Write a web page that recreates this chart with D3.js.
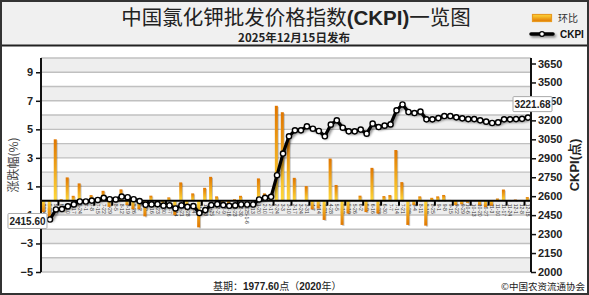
<!DOCTYPE html>
<html><head><meta charset="utf-8">
<script src="https://cdn.jsdelivr.net/npm/d3@7"></script>
<style>body{margin:0;background:#fff;}svg{display:block;}</style>
</head><body><svg id="c" width="589" height="295"></svg>
<script>
// ---- data ----
const dates = ["2024-5-13","5-20","5-27","6-3","6-10","6-17","6-24","7-1","7-8","7-15","7-22","7-29",
"8-5","8-12","8-19","8-26","9-2","9-9","9-16","9-23","9-30","10-7","10-14","10-21","10-28",
"11-4","11-11","11-18","11-25","12-2","12-9","12-16","12-23","12-30",
"2025-1-6","1-13","1-20","2-10","2-17","2-24","3-3","3-10","3-17","3-24","3-31","4-7","4-14","4-21","4-28",
"5-5","5-12","5-19","5-26","6-2","6-9","6-16","6-23","6-30","7-7","7-14","7-21","7-28",
"8-4","8-11","8-18","8-25","9-1","9-8","9-15","9-22","9-29","10-6","10-13","10-20","10-27",
"11-3","11-10","11-17","11-24","12-1","12-8","12-15"];
const changePct = [-0.8,-1.2,4.3,0.1,1.63,0.34,1.21,0.05,0.39,0.2,0.69,-0.43,-0.1,0.79,-0.3,-0.6,-0.6,-1.1,0.35,-0.1,
-0.3,0.23,-1.0,1.28,-0.66,0.51,-1.87,0.9,1.67,0.3,-0.2,-0.2,0.1,0.34,0.0,0.0,1.56,0.51,0.3,6.65,
6.2,4.6,1.6,0.0,1.02,-0.6,-0.55,-1.35,2.95,1.1,-1.7,-0.9,0.02,0.35,-0.8,2.3,-0.9,0.32,0.39,3.55,
1.3,-1.7,-0.3,0.3,-1.75,0.2,0.3,0.4,0.05,-0.3,-0.25,-0.15,0.02,-0.3,-0.45,-0.35,0.15,0.78,0.05,0.08,
0.05,0.25];
const ckpi = [null,2415.6,2495,2498,2520,2535,2558,2558,2565,2570,2587,2576,2574,2597,2592,2576,2561,2532,2535,2537,
2525,2527,2503,2527,2516,2521,2467,2490,2530,2537,2530,2524,2527,2534,2534,2534,2574,2587,2595,2766,
2937,3074,3121,3121,3153,3134,3116,3074,3166,3200,3142,3113,3113,3127,3095,3174,3147,3158,3168,3279,
3326,3266,3258,3269,3208,3208,3218,3234,3234,3224,3216,3210,3210,3200,3190,3179,3184,3208,3208,3210,
3212,3221.68];
const leftTicks = [9,7,5,3,1,-1,-3,-5];
const rightTicks = [3650,3500,3350,3200,3050,2900,2750,2600,2450,2300,2150,2000];

// ---- setup ----
const svg = d3.select("#c");
const NUM = "'Liberation Sans', Arial, sans-serif";
const CJK = "'Noto Sans CJK SC', 'Liberation Sans', sans-serif";
const defs = svg.append("defs");
function grad(id, c0, c1){
  const g = defs.append("linearGradient").attr("id",id).attr("x1",0).attr("y1",0).attr("x2",0).attr("y2",1);
  g.append("stop").attr("offset","0%").attr("stop-color",c0);
  g.append("stop").attr("offset","100%").attr("stop-color",c1);
}
grad("gPos","#e07600","#ffd93a");
grad("gNeg","#ffd93a","#e07600");
defs.append("filter").attr("id","sh").attr("filterUnits","userSpaceOnUse")
  .attr("x",0).attr("y",0).attr("width",589).attr("height",295)
  .append("feDropShadow").attr("dx",1.5).attr("dy",1.8).attr("stdDeviation",0.9)
  .attr("flood-color","#000").attr("flood-opacity",0.45);

const x = d3.scalePoint().domain(dates).range([44, 528]);
const yL = d3.scaleLinear().domain([-5, 10]).range([272, 58]);
const yR = d3.scaleLinear().domain([2000, 3650]).range([272, 63.5]);
const X0 = 41, X1 = 531;

// header
svg.append("rect").attr("x",0).attr("y",0).attr("width",589).attr("height",45).attr("fill","#f0f0f0");
svg.append("line").attr("x1",0).attr("x2",589).attr("y1",45.5).attr("y2",45.5).attr("stroke","#222").attr("stroke-width",2);
const t = svg.append("text").attr("x",296).attr("y",25).attr("text-anchor","middle")
  .attr("font-size",20.5).attr("fill","#222").attr("font-family",CJK);
t.append("tspan").text("中国氯化钾批发价格指数");
t.append("tspan").attr("font-weight","bold").attr("font-family",NUM).text("(CKPI)");
t.append("tspan").text("一览图");
svg.append("text").attr("x",294).attr("y",41.5).attr("text-anchor","middle").attr("font-size",11.5)
  .attr("font-weight","bold").attr("fill","#222").attr("font-family",CJK).text("2025年12月15日发布");

// legend
svg.append("rect").attr("x",532.5).attr("y",14.5).attr("width",19).attr("height",7)
  .attr("fill","url(#gNeg)").attr("stroke","#e89a20").attr("stroke-width",1.2);
svg.append("text").attr("x",558).attr("y",22).attr("font-size",10).attr("fill","#333").attr("font-family",CJK).text("环比");
svg.append("line").attr("x1",531).attr("x2",553).attr("y1",34).attr("y2",34).attr("stroke","#000")
  .attr("stroke-width",3.5).attr("stroke-linecap","round").attr("filter","url(#sh)");
svg.append("circle").attr("cx",542).attr("cy",34).attr("r",2.4).attr("fill","#fff").attr("stroke","#000").attr("stroke-width",1.2);
svg.append("text").attr("x",560).attr("y",37.5).attr("font-size",10).attr("font-weight","bold").attr("fill","#111").attr("font-family",NUM).text("CKPI");

// plot background bands
const bandVals = d3.range(-5, 10);
svg.append("g").selectAll("rect").data(bandVals).join("rect")
  .attr("x",X0).attr("width",X1-X0)
  .attr("y",d=>yL(d+1)).attr("height",d=>yL(d)-yL(d+1))
  .attr("fill",d=>(Math.abs(d)%2===1)?"#eeeeee":"#ffffff");
svg.append("g").selectAll("line").data(d3.range(-5, 11).filter(d=>d!==0)).join("line")
  .attr("x1",X0).attr("x2",X1).attr("y1",d=>yL(d)).attr("y2",d=>yL(d))
  .attr("stroke","#c0c0c0").attr("stroke-width",1.4);

// x labels
const gx = svg.append("g").attr("transform",`translate(-0.5,${yL(0)})`)
  .call(d3.axisBottom(x).tickSize(0).tickPadding(0));
gx.select(".domain").remove();
gx.selectAll("text").attr("transform","rotate(90)").attr("x",3).attr("y",0).attr("dy","0.35em")
  .style("text-anchor","start").attr("font-size",5).attr("fill","#333").attr("font-family",NUM);

// bars
const barData = dates.map((d,i)=>({d, v: changePct[i]}));
const gb = svg.append("g");
gb.selectAll("rect.s").data(barData).join("rect").attr("class","s")
  .attr("x",d=>x(d.d)-0.5).attr("width",2.2)
  .attr("y",d=>Math.min(yL(d.v),yL(0))+1).attr("height",d=>Math.abs(yL(d.v)-yL(0)))
  .attr("fill","rgba(0,0,0,0.22)");
gb.selectAll("rect.b").data(barData).join("rect").attr("class","b")
  .attr("x",d=>x(d.d)-2.2).attr("width",3)
  .attr("y",d=>Math.min(yL(d.v),yL(0))).attr("height",d=>Math.abs(yL(d.v)-yL(0)))
  .attr("fill",d=>d.v>=0?"url(#gPos)":"url(#gNeg)");

// zero line
svg.append("line").attr("x1",X0).attr("x2",X1).attr("y1",yL(0)).attr("y2",yL(0)).attr("stroke","#000").attr("stroke-width",2);
// category tick marks (every 3)
const tickIdx = d3.range(2, dates.length-1, 3);
svg.append("g").selectAll("line").data(tickIdx).join("line")
  .attr("x1",k=>(x(dates[k])+x(dates[k+1]))/2-0.5).attr("x2",k=>(x(dates[k])+x(dates[k+1]))/2-0.5)
  .attr("y1",yL(0)).attr("y2",yL(0)+5).attr("stroke","#000").attr("stroke-width",2);

// line
const pts = dates.map((d,i)=>({d, v: ckpi[i]}));
const line = d3.line().defined(p=>p.v!=null).x(p=>x(p.d)).y(p=>yR(p.v));
svg.append("path").datum(pts).attr("d",line).attr("fill","none").attr("stroke","#000")
  .attr("stroke-width",3.2).attr("stroke-linejoin","round").attr("filter","url(#sh)");
svg.append("g").selectAll("circle").data(pts.filter(p=>p.v!=null)).join("circle")
  .attr("cx",p=>x(p.d)).attr("cy",p=>yR(p.v)).attr("r",2.6)
  .attr("fill","#fff").attr("stroke","#000").attr("stroke-width",1.4);

// axes
const gl = svg.append("g").attr("transform",`translate(${X0},0)`)
  .call(d3.axisLeft(yL).tickValues(leftTicks).tickSize(5).tickPadding(3).tickFormat(d3.format("d")));
gl.select(".domain").attr("d",`M0,${yL(10)}V${yL(-5)}`).attr("stroke","#111").attr("stroke-width",2);
gl.selectAll(".tick line").attr("stroke","#111").attr("stroke-width",1.5);
gl.selectAll("text").attr("font-size",11).attr("font-weight","bold").attr("fill","#222").attr("font-family",NUM);

const gr = svg.append("g").attr("transform",`translate(${X1},0)`)
  .call(d3.axisRight(yR).tickValues(rightTicks).tickSize(5).tickPadding(2).tickFormat(d3.format("d")));
gr.select(".domain").attr("d",`M0,${yL(10)}V${yR(2000)}`).attr("stroke","#111").attr("stroke-width",2);
gr.selectAll(".tick line").attr("stroke","#111").attr("stroke-width",1.5);
gr.selectAll("text").attr("font-size",11).attr("font-weight","bold").attr("fill","#222").attr("font-family",NUM);

// axis titles
svg.append("text").attr("transform",`translate(18,${yL(2.5)}) rotate(-90)`).attr("text-anchor","middle")
  .attr("font-size",12).attr("fill","#444").attr("font-family",CJK).text("涨跌幅(%)");
svg.append("text").attr("transform",`translate(579,${yL(2.5)}) rotate(-90)`).attr("text-anchor","middle")
  .attr("font-size",13).attr("font-weight","bold").attr("fill","#222").attr("font-family",NUM).text("CKPI(点)");

// value labels
function valueLabel(i, dx, dy){
  const px = x(dates[i]), py = yR(ckpi[i]);
  const bx = px+dx, by = py+dy;
  svg.append("rect").attr("x",bx).attr("y",by).attr("width",39).attr("height",15)
    .attr("fill","#fff").attr("stroke","#aaa").attr("stroke-width",1).attr("rx",1);
  svg.append("text").attr("x",bx+19.5).attr("y",by+11.2).attr("text-anchor","middle").attr("font-size",10)
    .attr("font-weight","bold").attr("fill","#222").attr("font-family",NUM).text(d3.format(".2f")(ckpi[i]));
}
valueLabel(1, -42, -6);
valueLabel(dates.length-1, -15, -21);

// footer
const f = svg.append("text").attr("x",213).attr("y",289.5).attr("font-size",10).attr("fill","#222").attr("font-family",CJK);
f.append("tspan").text("基期：");
f.append("tspan").attr("font-weight","bold").attr("font-family",NUM).text("1977.60");
f.append("tspan").text("点（");
f.append("tspan").attr("font-weight","bold").attr("font-family",NUM).text("2020");
f.append("tspan").text("年）");
svg.append("text").attr("x",585).attr("y",289.5).attr("text-anchor","end").attr("font-size",9.5).attr("fill","#222")
  .attr("font-family",CJK).text("©中国农资流通协会");

// outer border
svg.append("rect").attr("x",1).attr("y",1).attr("width",587).attr("height",293).attr("fill","none")
  .attr("stroke","#333").attr("stroke-width",2);
</script></body></html>
